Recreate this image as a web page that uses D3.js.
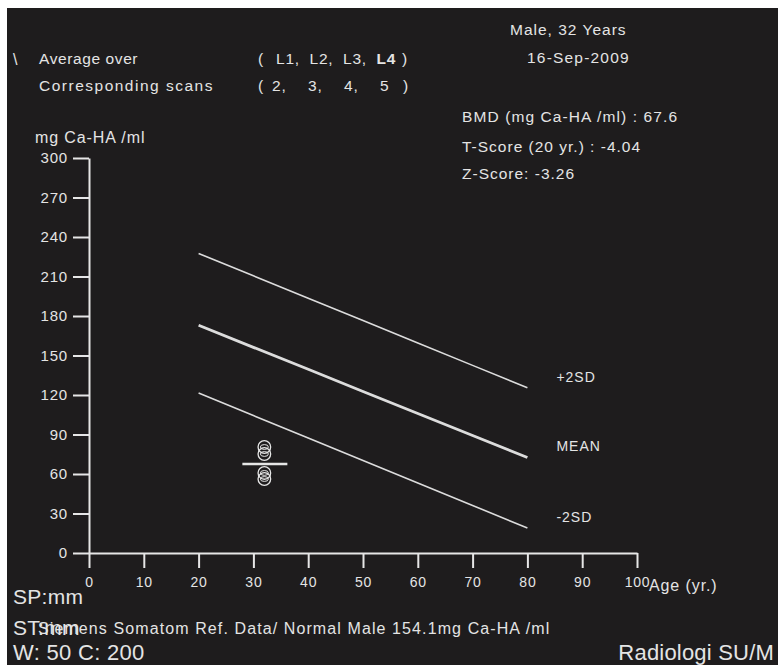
<!DOCTYPE html>
<html>
<head>
<meta charset="utf-8">
<script src="https://cdn.jsdelivr.net/npm/d3@7"></script>
<style>
  html, body { margin: 0; padding: 0; background: #fff; }
  svg { display: block; }
  text { font-family: "Liberation Sans", Arial, sans-serif; fill: #e4e4e4; }
</style>
</head>
<body>
<svg id="chart" width="780" height="665"></svg>
<script>
// reference curves (age in years, BMD in mg Ca-HA/ml)
var ages = [20, 30, 40, 50, 60, 70, 80];
var plus2sd = [227.5, 210.5, 193.5, 176.5, 159.5, 142.5, 125.5];
var mean = [173, 156.2, 139.5, 122.7, 106, 89.2, 72.5];
var minus2sd = [121.5, 104.4, 87.3, 70.3, 53.2, 36.1, 19];
var curveLabels = ["+2SD", "MEAN", "-2SD"];

// patient measurement
var patientAge = 32;
var patientBmd = 67.6;
var vertebraBmd = [80.5, 75.2, 60.8, 56.2];
var vertebrae = ["L1", "L2", "L3", "L4"];
var scans = ["2", "3", "4", "5"];

var xTicks = [0, 10, 20, 30, 40, 50, 60, 70, 80, 90, 100];
var yTicks = [0, 30, 60, 90, 120, 150, 180, 210, 240, 270, 300];

var svg = d3.select("#chart");
var ink = "#e6e6e6";

// screen background with the thin white scan border
svg.append("rect")
    .attr("x", 7).attr("y", 8)
    .attr("width", 771).attr("height", 657)
    .attr("fill", "#1e1c1d");

var x = d3.scaleLinear().domain([0, 100]).range([89, 637]);
var y = d3.scaleLinear().domain([0, 300]).range([553, 158]);

var yAxis = d3.axisLeft(y).tickValues(yTicks).tickSizeInner(16).tickSizeOuter(0).tickPadding(5);
var xAxis = d3.axisBottom(x).tickValues(xTicks).tickSizeInner(15).tickSizeOuter(0).tickPadding(9);

var gy = svg.append("g").attr("transform", "translate(" + x(0) + ",0)").call(yAxis);
var gx = svg.append("g").attr("transform", "translate(0," + y(0) + ")").call(xAxis);

[gx, gy].forEach(function(g) {
    g.selectAll("path, line").attr("stroke", ink).attr("stroke-width", 2);
    g.selectAll("text")
        .attr("fill", ink)
        .style("font-family", "'Liberation Sans', Arial, sans-serif")
        .style("letter-spacing", "0.8px");
});
gy.selectAll("text").style("font-size", "15px");
gx.selectAll("text").style("font-size", "14px");

// reference lines
var line = d3.line()
    .x(function(d, i) { return x(ages[i]); })
    .y(function(d) { return y(d); });

[[plus2sd, 1.6], [mean, 2.8], [minus2sd, 1.6]].forEach(function(s) {
    svg.append("path")
        .datum(s[0])
        .attr("d", line)
        .attr("fill", "none")
        .attr("stroke", "#dcdcdc")
        .attr("stroke-width", s[1]);
});

[plus2sd, mean, minus2sd].forEach(function(s, i) {
    svg.append("text")
        .attr("x", x(80) + 29)
        .attr("y", y(s[s.length - 1]) - 11)
        .attr("dy", "0.35em")
        .style("font-size", "14px")
        .style("letter-spacing", "1px")
        .text(curveLabels[i]);
});

// patient marker: mean bar and one ring per vertebra
var px = x(patientAge);
svg.append("line")
    .attr("x1", px - 22).attr("x2", px + 23)
    .attr("y1", y(patientBmd)).attr("y2", y(patientBmd))
    .attr("stroke", ink).attr("stroke-width", 2.4);

var rings = svg.append("g").selectAll("g").data(vertebraBmd).join("g")
    .attr("transform", function(d) { return "translate(" + px + "," + y(d) + ")"; });
rings.append("circle").attr("r", 6.3)
    .attr("fill", "none").attr("stroke", ink).attr("stroke-width", 1.3);
rings.append("ellipse").attr("rx", 4).attr("ry", 2.4)
    .attr("fill", "none").attr("stroke", ink).attr("stroke-width", 1);

// header text
function label(txt, tx, ty, size, opts) {
    opts = opts || {};
    return svg.append("text")
        .attr("x", tx).attr("y", ty)
        .attr("dy", "0.35em")
        .attr("text-anchor", opts.anchor || "start")
        .style("font-size", size + "px")
        .style("font-weight", opts.bold ? "bold" : "normal")
        .style("letter-spacing", (opts.ls === undefined ? 0.8 : opts.ls) + "px")
        .text(txt);
}

label("\\", 13, 59, 16);
label("Average over", 39, 59, 15.5, { ls: 0.6 });
label("Corresponding scans", 39, 86, 15.5, { ls: 1.5 });

label("(", 258, 59, 15.5);
label(")", 402, 59, 15.5);
vertebrae.forEach(function(v, i) {
    label(v + (i < vertebrae.length - 1 ? "," : ""), 276 + i * 33.5, 59, 15.5, { bold: i === 3 });
});
label("(", 258, 86, 15.5);
label(")", 403, 86, 15.5);
scans.forEach(function(s, i) {
    label(s + (i < scans.length - 1 ? "," : ""), 272 + i * 36, 86, 15.5);
});

label("Male, 32 Years", 510, 30, 15.5, { ls: 1 });
label("16-Sep-2009", 527, 58, 15.5, { ls: 1.2 });
label("BMD (mg Ca-HA /ml) : 67.6", 462, 117, 15.5, { ls: 1.1 });
label("T-Score (20 yr.) : -4.04", 462, 147, 15.5, { ls: 1 });
label("Z-Score: -3.26", 462, 174, 15.5, { ls: 1 });

label("mg Ca-HA /ml", 35, 137, 16, { ls: 0.9 });
label("Age (yr.)", 649, 585, 16, { ls: 0.9 });

// footer text
label("SP:mm", 13, 597, 21, { ls: 0.3 });
label("ST:mm", 13, 628, 21, { ls: 0.3 });
label("Siemens Somatom Ref. Data/ Normal Male 154.1mg Ca-HA /ml", 38, 628, 16, { ls: 1.1 });
label("W: 50 C: 200", 13, 652, 22, { ls: 0.3 });
label("Radiologi SU/M", 774, 652, 22, { anchor: "end", ls: 0.2 });
</script>
</body>
</html>
